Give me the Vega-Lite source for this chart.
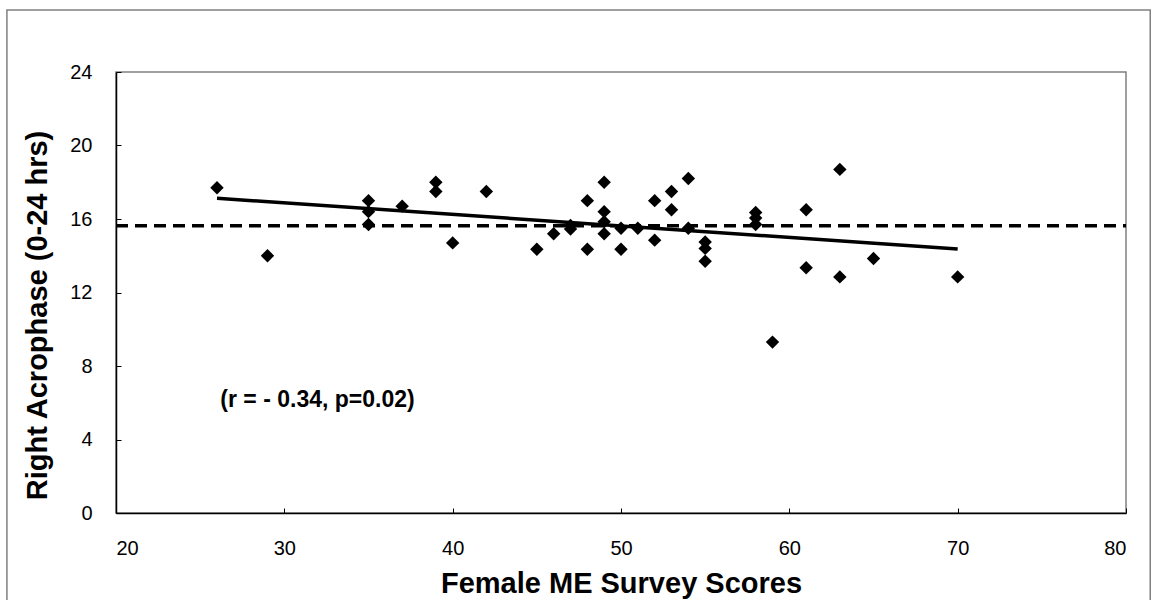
{
  "$schema": "https://vega.github.io/schema/vega-lite/v6.json",
  "width": 1010,
  "height": 441,
  "autosize": {"type": "none"},
  "padding": {"left": 116, "top": 72, "right": 29, "bottom": 87},
  "background": "white",
  "config": {
    "font": "Liberation Sans",
    "view": {"stroke": "#808080", "strokeWidth": 1.5},
    "axis": {
      "grid": false,
      "domainColor": "black",
      "domainWidth": 1.5,
      "tickColor": "black",
      "tickWidth": 1,
      "tickSize": -5,
      "labelFont": "Liberation Sans",
      "labelFontSize": 20,
      "labelColor": "black",
      "titleFont": "Liberation Sans",
      "titleFontSize": 29,
      "titleFontWeight": "bold",
      "titleColor": "black"
    }
  },
  "datasets": {
    "points": [
      {"score": 26, "acrophase": 17.7},
      {"score": 29, "acrophase": 14.0},
      {"score": 35, "acrophase": 17.0},
      {"score": 35, "acrophase": 16.4},
      {"score": 35, "acrophase": 15.7},
      {"score": 37, "acrophase": 16.7},
      {"score": 39, "acrophase": 18.0},
      {"score": 39, "acrophase": 17.5},
      {"score": 40, "acrophase": 14.7},
      {"score": 42, "acrophase": 17.5},
      {"score": 45, "acrophase": 14.35},
      {"score": 46, "acrophase": 15.2},
      {"score": 47, "acrophase": 15.65},
      {"score": 47, "acrophase": 15.45},
      {"score": 48, "acrophase": 17.0},
      {"score": 48, "acrophase": 14.35},
      {"score": 49, "acrophase": 18.0},
      {"score": 49, "acrophase": 16.4},
      {"score": 49, "acrophase": 15.85},
      {"score": 49, "acrophase": 15.2},
      {"score": 50, "acrophase": 15.5},
      {"score": 50, "acrophase": 14.35},
      {"score": 51, "acrophase": 15.5},
      {"score": 52, "acrophase": 17.0},
      {"score": 52, "acrophase": 14.85},
      {"score": 53, "acrophase": 17.5},
      {"score": 53, "acrophase": 16.5},
      {"score": 54, "acrophase": 18.2},
      {"score": 54, "acrophase": 15.5},
      {"score": 55, "acrophase": 14.75},
      {"score": 55, "acrophase": 14.4},
      {"score": 55, "acrophase": 13.7},
      {"score": 58, "acrophase": 16.35},
      {"score": 58, "acrophase": 16.05},
      {"score": 58, "acrophase": 15.7},
      {"score": 59, "acrophase": 9.3},
      {"score": 61, "acrophase": 16.5},
      {"score": 61, "acrophase": 13.35},
      {"score": 63, "acrophase": 18.7},
      {"score": 63, "acrophase": 12.85},
      {"score": 65, "acrophase": 13.85},
      {"score": 70, "acrophase": 12.85}
    ],
    "fit": [
      {"score": 26, "acrophase": 17.13},
      {"score": 70, "acrophase": 14.37}
    ],
    "mean": [
      {"score0": 20, "score1": 80, "acrophase": 15.63}
    ],
    "note": [
      {"score": 26.2, "acrophase": 6.15, "label": "(r = - 0.34, p=0.02)"}
    ],
    "frame": [
      {"x0": 13.52, "x1": 81.44, "y0": 27.37, "y1": -6}
    ]
  },
  "layer": [
    {
      "data": {"name": "frame"},
      "mark": {"type": "rect", "fill": null, "fillOpacity": 0, "stroke": "#808080", "strokeWidth": 1.5, "clip": false},
      "encoding": {
        "x": {"field": "x0", "type": "quantitative", "scale": {"domain": [20, 80], "nice": false, "zero": false}},
        "x2": {"field": "x1"},
        "y": {"field": "y0", "type": "quantitative", "scale": {"domain": [0, 24], "nice": false, "zero": false}},
        "y2": {"field": "y1"}
      }
    },
    {
      "data": {"name": "mean"},
      "mark": {"type": "rule", "color": "black", "strokeWidth": 3.5, "strokeDash": [12, 7]},
      "encoding": {
        "x": {"field": "score0", "type": "quantitative"},
        "x2": {"field": "score1"},
        "y": {"field": "acrophase", "type": "quantitative"}
      }
    },
    {
      "data": {"name": "fit"},
      "mark": {"type": "line", "color": "black", "strokeWidth": 3.5},
      "encoding": {
        "x": {"field": "score", "type": "quantitative"},
        "y": {"field": "acrophase", "type": "quantitative"}
      }
    },
    {
      "data": {"name": "points"},
      "mark": {"type": "point", "shape": "diamond", "filled": true, "color": "black", "opacity": 1, "size": 180},
      "encoding": {
        "x": {
          "field": "score",
          "type": "quantitative",
          "scale": {"domain": [20, 80], "nice": false, "zero": false},
          "axis": {"values": [20, 30, 40, 50, 60, 70, 80], "title": "Female ME Survey Scores", "labelPadding": 30, "titleY": 70, "titleBaseline": "middle"}
        },
        "y": {
          "field": "acrophase",
          "type": "quantitative",
          "scale": {"domain": [0, 24], "nice": false, "zero": false},
          "axis": {"values": [0, 4, 8, 12, 16, 20, 24], "title": "Right Acrophase (0-24 hrs)", "labelPadding": 29, "titleX": -79, "titleY": 243, "titleBaseline": "middle"}
        }
      }
    },
    {
      "data": {"name": "note"},
      "mark": {"type": "text", "align": "left", "baseline": "middle", "fontSize": 23, "fontWeight": "bold", "color": "black", "font": "Liberation Sans"},
      "encoding": {
        "x": {"field": "score", "type": "quantitative"},
        "y": {"field": "acrophase", "type": "quantitative"},
        "text": {"field": "label"}
      }
    }
  ]
}
